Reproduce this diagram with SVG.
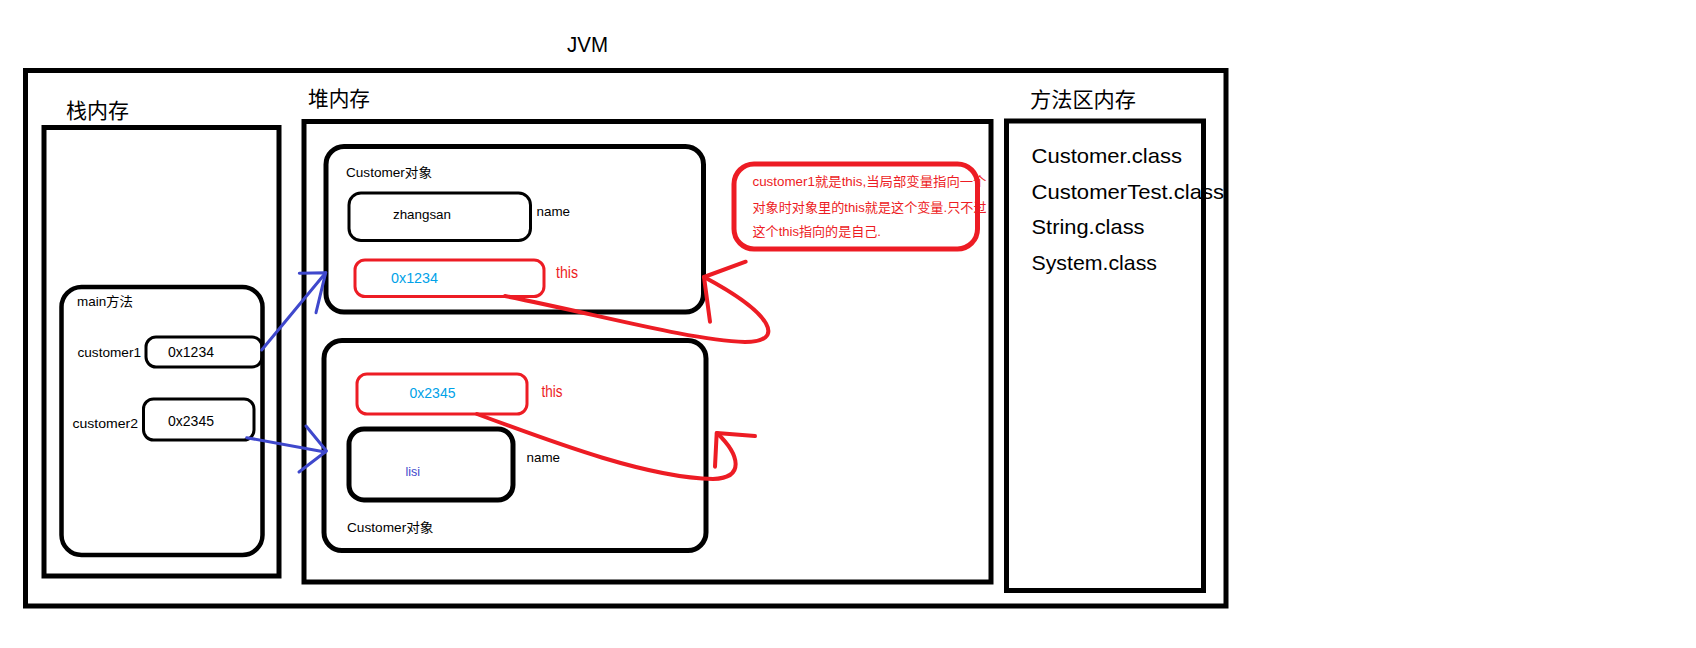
<svg xmlns="http://www.w3.org/2000/svg" width="1696" height="648" viewBox="0 0 1696 648">
<style>
.box{fill:none;stroke:#000;stroke-width:5}
.thin{fill:none;stroke:#000;stroke-width:3}
.red{fill:none;stroke:#ED1C24;stroke-width:3}
.t{font-family:"Liberation Sans","Noto Sans CJK SC",sans-serif;fill:#000}
.cjk{font-family:"Noto Sans CJK SC","Liberation Sans",sans-serif;fill:#000}
.s{font-size:13px}
.big{font-size:21px}
.rt{fill:#ED1C24}
.bt{fill:#00A2E8}
.blue{fill:none;stroke:#3F48CC;stroke-width:3;stroke-linecap:round;stroke-linejoin:round}
.rc{fill:none;stroke:#ED1C24;stroke-width:4;stroke-linecap:round;stroke-linejoin:round}
</style>
<rect width="1696" height="648" fill="#fff"/>
<g id="jvm">
<rect class="box" x="25.5" y="70.5" width="1200.5" height="535.5"/>
<text class="t" x="567" y="52" font-size="22" textLength="41" lengthAdjust="spacingAndGlyphs">JVM</text>
</g>
<g id="stack">
<rect class="box" x="44" y="127.5" width="235" height="448.5"/>
<text class="cjk" x="66" y="118" font-size="21" textLength="63" lengthAdjust="spacingAndGlyphs">栈内存</text>
</g>
<g id="main-method">
<rect fill="none" stroke="#000" stroke-width="4.5" x="61.5" y="287" width="201" height="268" rx="20"/>
<text class="t s" x="77" y="306" textLength="56" lengthAdjust="spacingAndGlyphs">main方法</text>
</g>
<g id="customer1-var">
<rect class="thin" x="146" y="337" width="116" height="30" rx="10"/>
<text class="t s" x="77.5" y="357" textLength="63.5" lengthAdjust="spacingAndGlyphs">customer1</text>
<text class="t" x="168" y="357" font-size="14" textLength="46" lengthAdjust="spacingAndGlyphs">0x1234</text>
</g>
<g id="customer2-var">
<rect class="thin" x="143.5" y="399" width="110.5" height="41" rx="10"/>
<text class="t s" x="72.5" y="427.5" textLength="65.5" lengthAdjust="spacingAndGlyphs">customer2</text>
<text class="t" x="168" y="426" font-size="14" textLength="46" lengthAdjust="spacingAndGlyphs">0x2345</text>
</g>
<g id="heap">
<rect class="box" x="304" y="121.5" width="687" height="460.5"/>
<text class="cjk" x="308" y="106" font-size="21" textLength="62" lengthAdjust="spacingAndGlyphs">堆内存</text>
</g>
<g id="object1">
<rect class="box" x="326" y="146.5" width="377.5" height="165.5" rx="18"/>
<text class="t s" x="346" y="177" textLength="86" lengthAdjust="spacingAndGlyphs">Customer对象</text>
<rect class="thin" x="349" y="193" width="181.5" height="47.5" rx="12"/>
<text class="t s" x="393" y="219" textLength="58" lengthAdjust="spacingAndGlyphs">zhangsan</text>
<text class="t s" x="536.5" y="216" textLength="33.5" lengthAdjust="spacingAndGlyphs">name</text>
<rect class="red" x="355" y="260" width="189" height="36.5" rx="10"/>
<text class="t bt" x="391" y="283" font-size="14" textLength="47" lengthAdjust="spacingAndGlyphs">0x1234</text>
<text class="t rt" x="556" y="278" font-size="17" textLength="22" lengthAdjust="spacingAndGlyphs">this</text>
</g>
<g id="object2">
<rect class="box" x="324" y="340.5" width="382" height="210" rx="18"/>
<rect class="red" x="357" y="374" width="170" height="40" rx="10"/>
<text class="t bt" x="409.5" y="398" font-size="14" textLength="46" lengthAdjust="spacingAndGlyphs">0x2345</text>
<text class="t rt" x="541.5" y="397" font-size="17" textLength="21" lengthAdjust="spacingAndGlyphs">this</text>
<rect class="box" x="349" y="429" width="164" height="71" rx="15"/>
<text class="t s" x="405.5" y="476" fill="#3F48CC" style="fill:#3F48CC" textLength="14.5" lengthAdjust="spacingAndGlyphs">lisi</text>
<text class="t s" x="526.5" y="462" textLength="33.5" lengthAdjust="spacingAndGlyphs">name</text>
<text class="t s" x="347" y="531.5" textLength="86.5" lengthAdjust="spacingAndGlyphs">Customer对象</text>
</g>
<g id="note">
<text class="t s rt" x="752.5" y="185.5" textLength="234" lengthAdjust="spacingAndGlyphs">customer1就是this,当局部变量指向一个</text>
<text class="t s rt" x="752.5" y="211.5" textLength="234" lengthAdjust="spacingAndGlyphs">对象时对象里的this就是这个变量.只不过</text>
<text class="t s rt" x="752.5" y="235.5" textLength="128.5" lengthAdjust="spacingAndGlyphs">这个this指向的是自己.</text>
<rect fill="none" stroke="#ED1C24" stroke-width="5" x="734" y="164" width="243.5" height="85" rx="20"/>
</g>
<g id="method-area">
<rect class="box" x="1006.5" y="121" width="197" height="469.5"/>
<text class="cjk" x="1030" y="107" font-size="21" textLength="106" lengthAdjust="spacingAndGlyphs">方法区内存</text>
<text class="t big" x="1031.5" y="163" textLength="150.5" lengthAdjust="spacingAndGlyphs">Customer.class</text>
<text class="t big" x="1031.5" y="198.5" textLength="192.5" lengthAdjust="spacingAndGlyphs">CustomerTest.class</text>
<text class="t big" x="1031.5" y="234" textLength="113" lengthAdjust="spacingAndGlyphs">String.class</text>
<text class="t big" x="1031.5" y="269.5" textLength="125.5" lengthAdjust="spacingAndGlyphs">System.class</text>
</g>
<g id="connectors">
<line class="blue" x1="261.7" y1="350" x2="325.7" y2="272.7"/>
<polyline class="blue" points="299.3,273.3 325.7,272.7 316,312.7"/>
<line class="blue" x1="246.7" y1="437.7" x2="325" y2="452"/>
<polyline class="blue" points="306,426 326.5,451 299,472"/>
<path class="rc" d="M505,296 C600,315 690,340 745,342 C785,342 775,315 704,277"/>
<polyline class="rc" points="745.7,261.7 704,277 710,321.7"/>
<path class="rc" d="M477,414 C560,445 650,478 713,479 C745,478 740,455 717,433"/>
<polyline class="rc" points="755,436 716.7,433 715,466.7"/>
</g>
</svg>
